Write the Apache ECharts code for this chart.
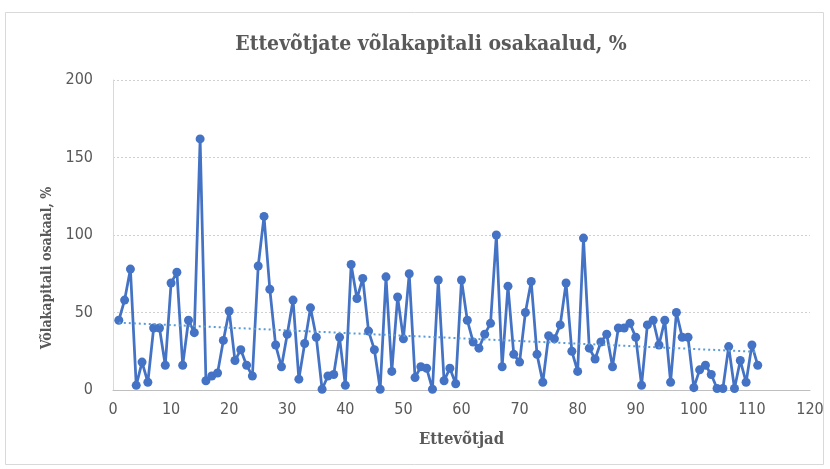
<!DOCTYPE html>
<html>
<head>
<meta charset="utf-8">
<script src="https://cdn.jsdelivr.net/npm/echarts@6/dist/echarts.min.js"></script>
<style>
  html, body { margin: 0; padding: 0; background: #fff; }
  #chart { width: 830px; height: 469px; }
</style>
</head>
<body>
<div id="chart"></div>
<script>
const titleText = 'Ettevõtjate võlakapitali osakaalud, %'
const xName = 'Ettevõtjad'
const yName = 'Võlakapitali osakaal, %'

// ettevõtte nr 1..111, võlakapitali osakaal %
const shares = [
  45, 58, 78, 3, 18, 5, 40, 40, 16, 69,
  76, 16, 45, 37, 162, 6, 9, 11, 32, 51,
  19, 26, 16, 9, 80, 112, 65, 29, 15, 36,
  58, 7, 30, 53, 34, 0.5, 9, 10, 34, 3,
  81, 59, 72, 38, 26, 0.5, 73, 12, 60, 33,
  75, 8, 15, 14, 0.5, 71, 6, 14, 4, 71,
  45, 31, 27, 36, 43, 100, 15, 67, 23, 18,
  50, 70, 23, 5, 35, 33, 42, 69, 25, 12,
  98, 27, 20, 31, 36, 15, 40, 40, 43, 34,
  3, 42, 45, 29, 45, 5, 50, 34, 34, 1.5,
  13, 16, 10, 1, 1, 28, 1, 19, 5, 29,
  16
]
const companies = shares.map((_, i) => i + 1)

const xTicks = { min: 0, max: 120, interval: 10 }
const yTicks = { min: 0, max: 200, interval: 50 }

// lineaarne trend (vähimruutude meetod), nagu Exceli trendijoon
const n = shares.length
const mx = companies.reduce((a, b) => a + b, 0) / n
const my = shares.reduce((a, b) => a + b, 0) / n
let sxy = 0, sxx = 0
companies.forEach((x, i) => {
  sxy += (x - mx) * (shares[i] - my)
  sxx += (x - mx) * (x - mx)
})
const slope = sxy / sxx
const icpt = my - slope * mx
const trend = [companies[0], companies[n - 1]].map(x => [x, icpt + slope * x])

const txtColor = '#595959'
const serif = "'DejaVu Serif Condensed', 'DejaVu Serif', 'Liberation Serif', serif"
const sans = "'DejaVu Sans Condensed', 'DejaVu Sans', sans-serif"

const chart = echarts.init(document.getElementById('chart'), null, { renderer: 'canvas' })

chart.setOption({
  animation: false,
  backgroundColor: '#fff',
  graphic: [
    {
      type: 'rect',
      shape: { x: 5.5, y: 12.5, width: 818, height: 452 },
      style: { fill: 'none', stroke: '#d9d9d9', lineWidth: 1 },
      silent: true
    },
    {
      // y-telje pealkiri, Excelis veidi allapoole nihutatud
      type: 'text',
      x: 47,
      y: 268,
      rotation: Math.PI / 2,
      style: {
        text: yName,
        fill: txtColor,
        font: 'bold 14px ' + serif,
        align: 'center',
        verticalAlign: 'middle'
      },
      silent: true
    }
  ],
  title: {
    text: titleText,
    left: 426,
    textAlign: 'center',
    top: 29,
    textStyle: { color: txtColor, fontFamily: serif, fontSize: 21, fontWeight: 'bold' }
  },
  grid: { left: 113, right: 20, top: 80, bottom: 79 },
  xAxis: {
    type: 'value',
    min: xTicks.min,
    max: xTicks.max,
    interval: xTicks.interval,
    name: xName,
    nameLocation: 'middle',
    nameGap: 41,
    nameTextStyle: { color: txtColor, fontFamily: serif, fontSize: 16.5, fontWeight: 'bold' },
    axisLine: { show: true, lineStyle: { color: '#bfbfbf', width: 1 } },
    axisTick: { show: false },
    splitLine: { show: false },
    axisLabel: { color: txtColor, fontFamily: sans, fontSize: 16, margin: 12 }
  },
  yAxis: {
    type: 'value',
    min: yTicks.min,
    max: yTicks.max,
    interval: yTicks.interval,
    axisLine: { show: true, lineStyle: { color: '#d9d9d9', width: 1 } },
    axisTick: { show: false },
    splitLine: { show: true, lineStyle: { color: '#d0d0d0', type: [2, 2], width: 1 } },
    axisLabel: { color: txtColor, fontFamily: sans, fontSize: 16, margin: 20 }
  },
  series: [
    {
      type: 'line',
      data: companies.map((x, i) => [x, shares[i]]),
      symbol: 'circle',
      symbolSize: 9,
      lineStyle: { color: '#4472C4', width: 2.75 },
      itemStyle: { color: '#4472C4' },
      z: 2
    },
    {
      type: 'line',
      data: trend,
      symbol: 'none',
      lineStyle: { color: '#5B9BD5', width: 2, type: [2, 3] },
      z: 3
    }
  ]
})
</script>
</body>
</html>
